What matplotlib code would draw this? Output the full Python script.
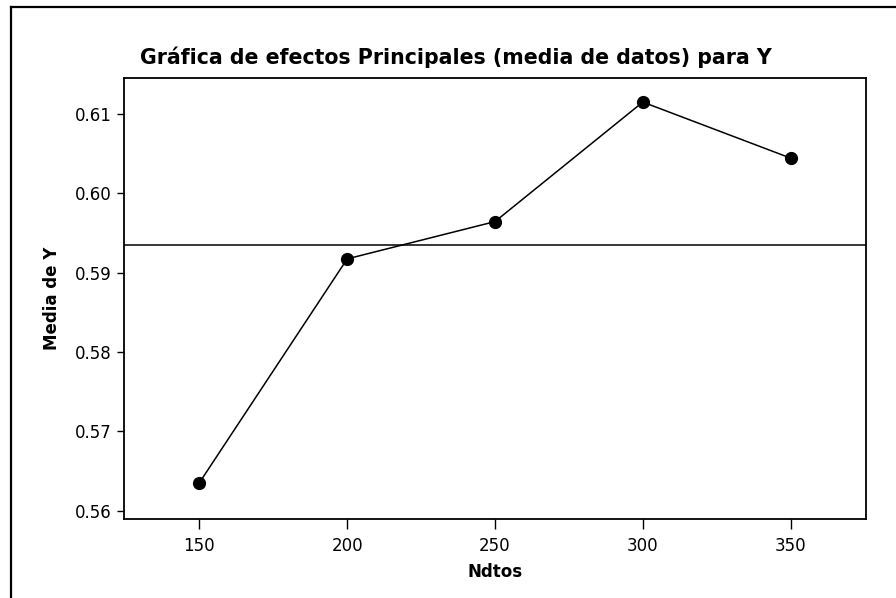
import numpy as np
import matplotlib
matplotlib.use("Agg")
import matplotlib.pyplot as plt
from matplotlib.lines import Line2D

ndtos = [150, 200, 250, 300, 350]
media_y = [0.56353, 0.59174, 0.59644, 0.61150, 0.60444]
yticks = [0.56, 0.57, 0.58, 0.59, 0.60, 0.61]

plt.rcParams['font.family'] = 'DejaVu Sans'

fig = plt.figure(figsize=(8.96, 5.98), dpi=100)
ax = fig.add_axes([0.1384, 0.1329, 0.8281, 0.7362])

# overall mean reference line
ax.axhline(np.mean(media_y), color='k', linewidth=1.1, zorder=1)
ax.plot(ndtos, media_y, color='k', linewidth=1.1, marker='o',
        markersize=8.5, markerfacecolor='k', zorder=2)

ax.set_xlim(124.5, 375.5)
ax.set_ylim(0.55902, 0.6145)
ax.set_xticks(ndtos)
ax.set_yticks(yticks)
ax.set_yticklabels(['%.2f' % v for v in yticks])
ax.tick_params(direction='out', width=1.0, labelsize=12)
ax.tick_params(axis='x', length=7, pad=6)
ax.tick_params(axis='y', length=5, pad=4)
for s in ax.spines.values():
    s.set_linewidth(1.3)

ax.set_xlabel('Ndtos', fontsize=12, fontweight='bold', labelpad=6)
ax.set_ylabel('Media de Y', fontsize=12, fontweight='bold', labelpad=10)
fig.text(456 / 896, 1 - 57 / 598, 'Gráfica de efectos Principales (media de datos) para Y',
         ha='center', va='center', fontsize=14.8, fontweight='bold')

# graph frame, only left and top edges fall inside the image
fig.add_artist(Line2D([11 / 896, 11 / 896], [1 - 7 / 598, -0.1],
                      transform=fig.transFigure, color='k', linewidth=1.6))
fig.add_artist(Line2D([11 / 896, 1.1], [1 - 7 / 598, 1 - 7 / 598],
                      transform=fig.transFigure, color='k', linewidth=1.6))

fig.savefig('out.png', dpi=100)
